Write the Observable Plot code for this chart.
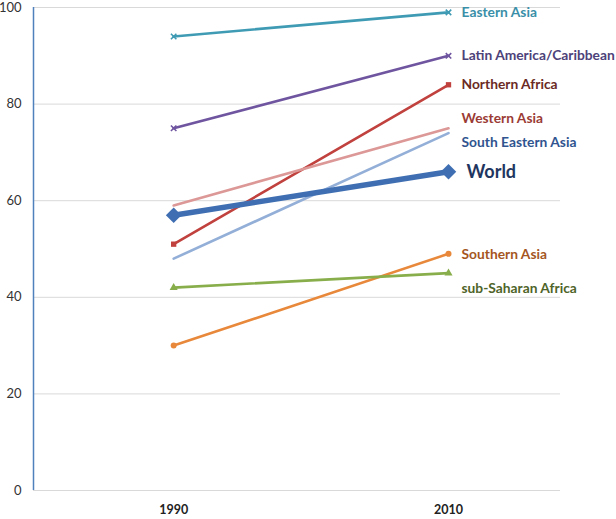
<!DOCTYPE html>
<html>
<head>
<meta charset="utf-8">
<script src="https://cdn.jsdelivr.net/npm/d3@7"></script>
<script src="https://cdn.jsdelivr.net/npm/@observablehq/plot@0.6"></script>
<style>
  html, body { margin: 0; padding: 0; background: #fff; }
  #chart { width: 616px; height: 519px; }
</style>
</head>
<body>
<div id="chart"></div>
<script>
// ---- data ----
const years = [1990, 2010];
const regions = ["Eastern Asia", "Latin America/Caribbean", "Northern Africa", "Western Asia", "South Eastern Asia", "World", "Southern Asia", "sub-Saharan Africa"];
const values1990 = [94, 75, 51, 59, 48, 57, 30, 42];
const values2010 = [99, 90, 84, 75, 74, 66, 49, 45];
const labelAt = [98.9, 90.1, 84.1, 77.1, 72.1, 65.9, 48.8, 41.9];
const lineColors = ["#3f9bb4", "#6f55a0", "#c0413e", "#dc9896", "#93afd8", "#3f6fb2", "#e8883a", "#88ae4b"];
const labelColors = ["#3a8fa8", "#4d4279", "#6b2a24", "#9b3b35", "#30548f", "#1f3660", "#a5561f", "#4f6429"];
const markers = ["times", "times", "square", null, null, "diamond2", "circle", "triangle"];
const yTicks = [0, 20, 40, 60, 80, 100];

// ---- build table ----
const rows = [];
regions.forEach((r, i) => {
  rows.push({region: r, year: years[0], value: values1990[i], i});
  rows.push({region: r, year: years[1], value: values2010[i], i});
});
const ends = regions.map((r, i) => ({region: r, year: years[1], y: labelAt[i], i}));

const xDomain = [1979.8, 2018.15];
const marks = [
  Plot.gridY(yTicks, {stroke: "#d9d9d9", strokeOpacity: 1, strokeWidth: 1}),
  Plot.ruleX([xDomain[0]], {stroke: "#4f81bd", strokeWidth: 1.5}),
  Plot.axisY(yTicks, {tickSize: 0, tickPadding: 12, fontSize: 13, fill: "#333", label: null}),
  Plot.axisX(years, {tickSize: 0, tickPadding: 15, fontSize: 12.5, fontWeight: "bold", fill: "#222", tickFormat: d => String(d), label: null})
];
regions.forEach((r, i) => {
  if (r === "World") return;
  const data = rows.filter(d => d.i === i);
  marks.push(Plot.line(data, {x: "year", y: "value", stroke: lineColors[i], strokeWidth: 2.6}));
  const m = markers[i];
  if (m === "times") {
    marks.push(Plot.dot(data, {x: "year", y: "value", symbol: "times", r: 2.6, stroke: lineColors[i], strokeWidth: 1.6}));
  } else if (m) {
    marks.push(Plot.dot(data, {x: "year", y: "value", symbol: m, r: 3, fill: lineColors[i], stroke: "none"}));
  }
});
{
  const i = regions.indexOf("World");
  const data = rows.filter(d => d.i === i);
  marks.push(Plot.line(data, {x: "year", y: "value", stroke: lineColors[i], strokeWidth: 5.5}));
  marks.push(Plot.dot(data, {x: "year", y: "value", symbol: "diamond2", r: 7, fill: lineColors[i], stroke: "none"}));
}
marks.push(Plot.text(ends.filter(d => regions[d.i] !== "World"), {
  x: "year", y: "y", text: "region", textAnchor: "start", dx: 13,
  fill: d => labelColors[d.i], fontSize: 13.8, fontWeight: "bold"
}));
marks.push(Plot.text(ends.filter(d => regions[d.i] === "World"), {
  x: "year", y: "y", text: "region", textAnchor: "start", dx: 18,
  fill: d => labelColors[d.i], fontSize: 18, fontWeight: "bold"
}));

const chart = Plot.plot({
  width: 616,
  height: 519,
  marginTop: 7,
  marginBottom: 29,
  marginLeft: 33,
  marginRight: 56,
  style: {fontFamily: "Lato, 'Open Sans', sans-serif", background: "#fff", overflow: "visible"},
  x: {domain: xDomain},
  y: {domain: [0, 100]},
  marks
});
document.getElementById("chart").appendChild(chart);
</script>
</body>
</html>
